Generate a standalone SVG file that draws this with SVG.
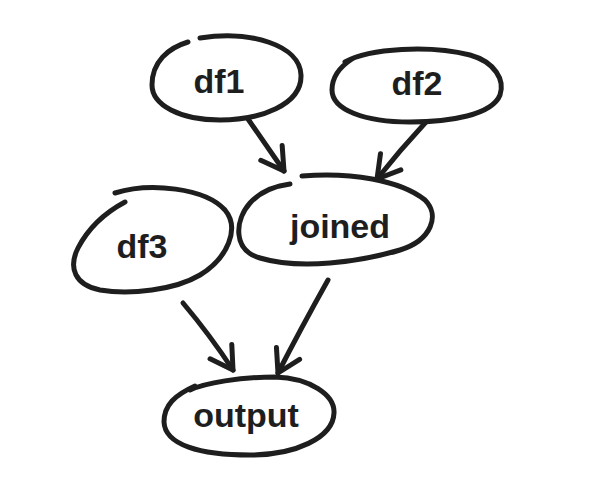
<svg xmlns="http://www.w3.org/2000/svg" width="600" height="480" viewBox="0 0 600 480">
<style>
.sk{fill:none;stroke:#1e1e1e;stroke-width:5;stroke-linecap:round;stroke-linejoin:round}
.lbl{font-family:"Liberation Sans",Arial,sans-serif;font-weight:bold;font-size:34px;fill:#1e1e1e;text-anchor:middle}
</style>
<defs>
<marker id="ah" markerUnits="userSpaceOnUse" viewBox="-26 -16 30 32" refX="0" refY="0" markerWidth="30" markerHeight="32" orient="auto">
<path d="M-22,-13 L0,0 L-22,13" fill="none" stroke="#1e1e1e" stroke-width="5" stroke-linecap="round" stroke-linejoin="round"/>
</marker>
</defs>
<rect width="600" height="480" fill="#ffffff"/>
<g id="connectors">
<path class="sk" d="M248,119 Q266,145 284,171" marker-end="url(#ah)"/>
<path class="sk" d="M426,122 Q400,150 377,179" marker-end="url(#ah)"/>
<path class="sk" d="M183,303 Q210,335 233,370" marker-end="url(#ah)"/>
<path class="sk" d="M328,280 Q300,330 278,373" marker-end="url(#ah)"/>
</g>
<g id="df1">
<path class="sk" d="M200,38 C250,30 300,45 301,75 C302,105 260,120 220,120 C180,120 152,105 152,85 C152,62 168,48 188,42"/>
<text class="lbl" x="219" y="93">df1</text>
</g>
<g id="df2">
<path class="sk" d="M345,62 C370,48 430,45 470,55 C495,62 505,80 500,95 C492,115 450,122 410,122 C365,122 332,110 332,90 C332,78 338,68 352,59"/>
<text class="lbl" x="417" y="95">df2</text>
</g>
<g id="df3">
<path class="sk" d="M115,193 C150,182 205,188 225,210 C240,228 228,258 200,275 C175,290 130,295 100,290 C75,285 68,268 78,248 C90,225 110,210 125,202"/>
<text class="lbl" x="142" y="258">df3</text>
</g>
<g id="joined">
<path class="sk" d="M302,176 C350,172 400,180 425,200 C440,215 432,240 400,250 C360,262 300,270 260,258 C232,250 235,220 250,203 C260,192 275,186 290,184"/>
<text class="lbl" x="340" y="238">joined</text>
</g>
<g id="output">
<path class="sk" d="M190,390 C205,383 240,377 275,377 C310,378 335,395 334,413 C333,438 295,455 250,455 C200,455 165,445 164,422 C164,405 175,395 195,386"/>
<text class="lbl" x="246" y="427">output</text>
</g>
</svg>
